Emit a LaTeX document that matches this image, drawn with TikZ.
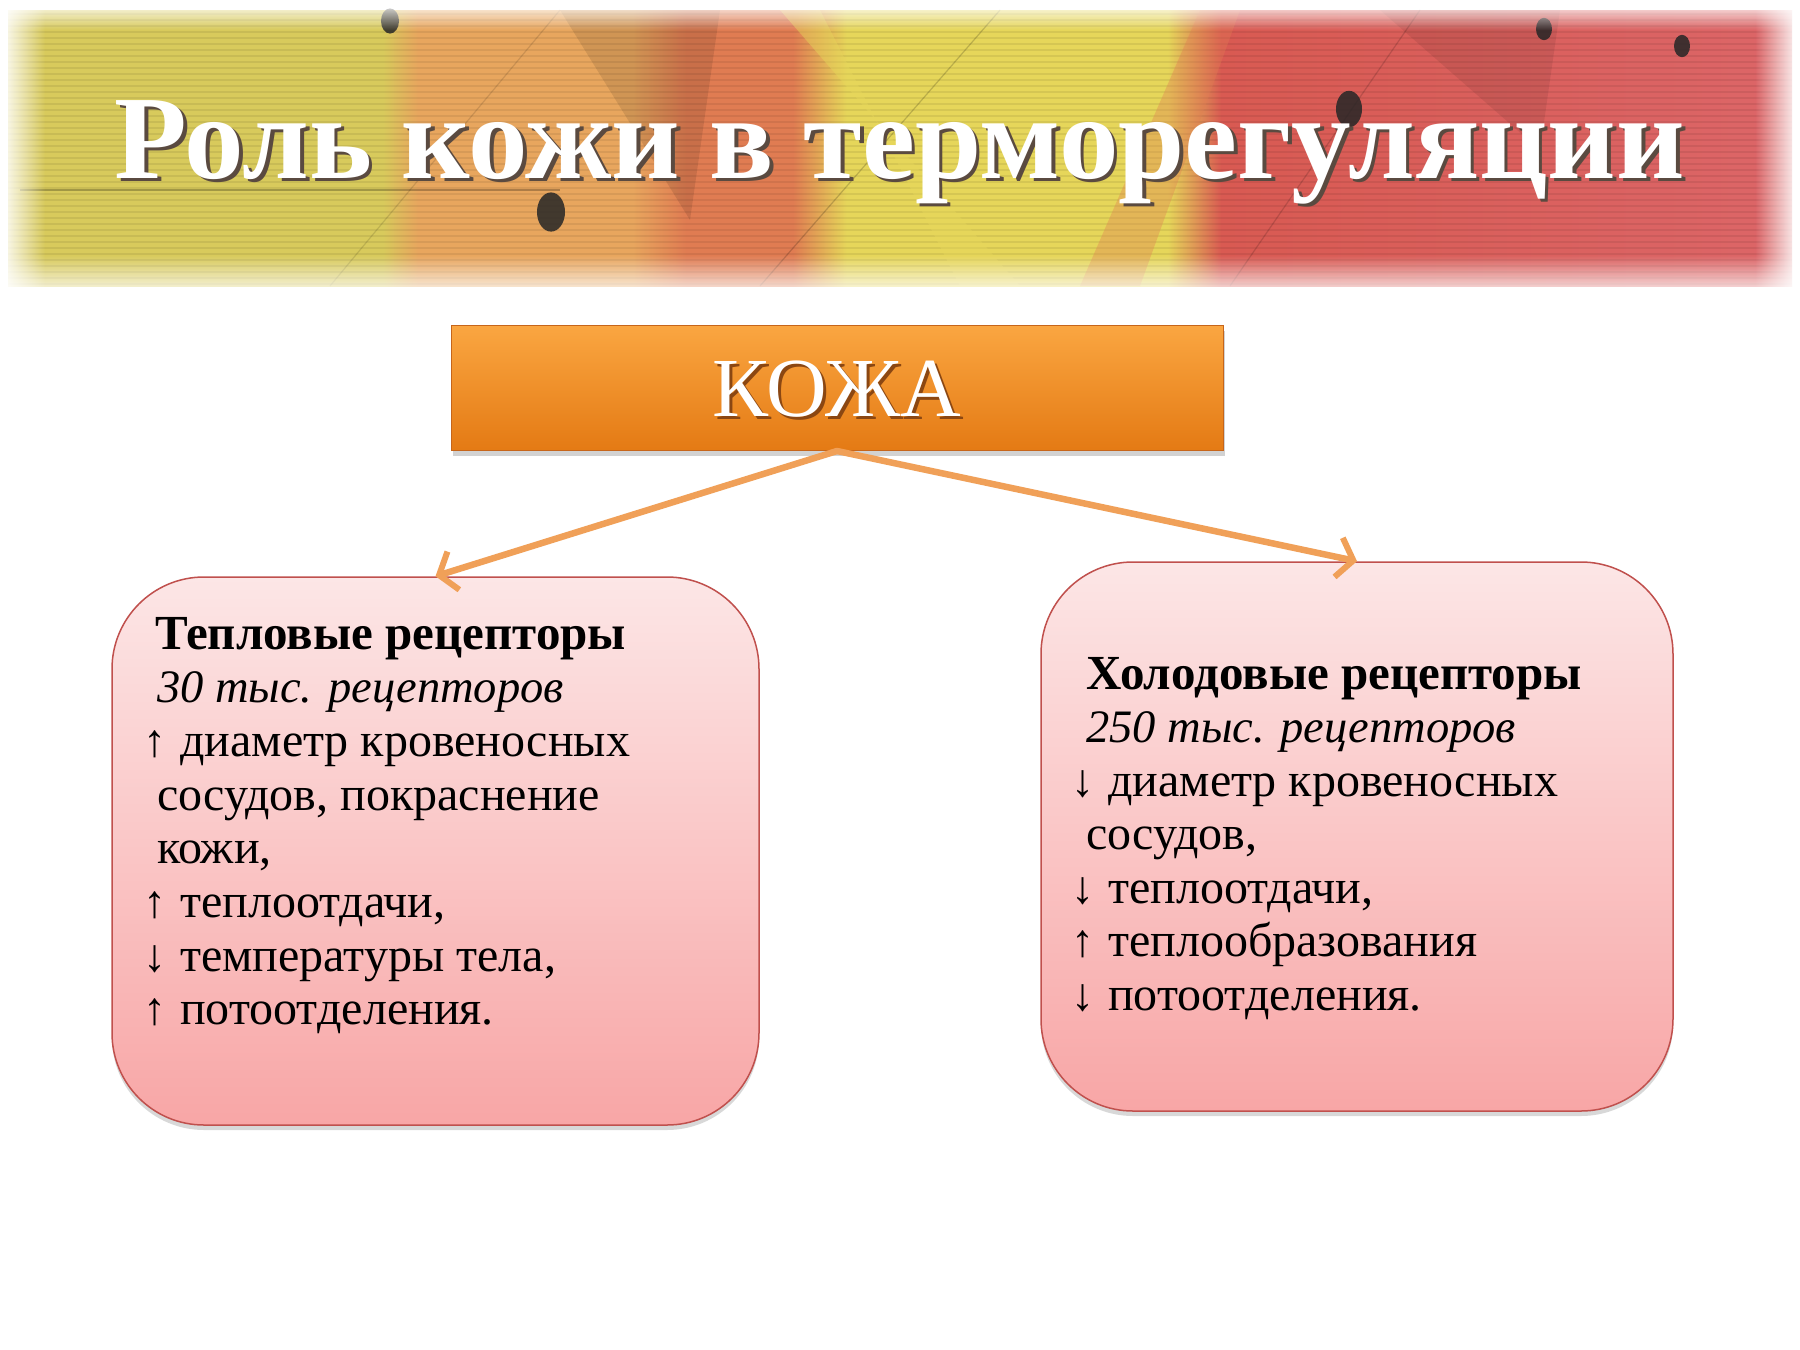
\documentclass[tikz,border=0pt]{standalone}
\usepackage{fontspec}
\setmainfont{Liberation Serif}
\usetikzlibrary{arrows.meta,shadows,fadings}
\definecolor{bA}{HTML}{D8CA5C}
\definecolor{bB}{HTML}{E8A65E}
\definecolor{bC}{HTML}{E07C52}
\definecolor{bD}{HTML}{E6D65A}
\definecolor{bE}{HTML}{D95A52}
\definecolor{bF}{HTML}{DC6668}
\definecolor{orT}{HTML}{FAA641}
\definecolor{orB}{HTML}{E47A14}
\definecolor{orEdge}{HTML}{C6651A}
\definecolor{arrC}{HTML}{F0A058}
\definecolor{pkT}{HTML}{FCE6E6}
\definecolor{pkB}{HTML}{F8A6A6}
\definecolor{pkEdge}{HTML}{C0504D}
\definecolor{shadowC}{HTML}{5A4A40}
\pgfdeclarehorizontalshading{bannershade}{100bp}{color(0bp)=(bA); color(25bp)=(bA); color(35.5bp)=(bA); color(36.5bp)=(bB); color(42.5bp)=(bB); color(44bp)=(bC); color(47bp)=(bC); color(48.5bp)=(bD); color(57.5bp)=(bD); color(59bp)=(bE); color(75bp)=(bF); color(100bp)=(bF)}
\tikzfading[name=fromleft, left color=transparent!0, right color=transparent!100]
\tikzfading[name=fromright, left color=transparent!100, right color=transparent!0]
\tikzfading[name=fromtop, top color=transparent!0, bottom color=transparent!100]
\tikzfading[name=frombottom, top color=transparent!100, bottom color=transparent!0]
\newcommand\arrUp{\makebox[37pt][l]{\fontsize{46}{46}\selectfont ↑}}
\newcommand\arrDn{\makebox[37pt][l]{\fontsize{46}{46}\selectfont ↓}}
\newcommand\shadowed[3]{\makebox[0pt][l]{\hspace*{#2}\raisebox{-#2}{\color{#3}#1}}\color{white}#1}
\tikzset{
  kozhabox/.style={top color=orT, bottom color=orB, draw=orEdge, line width=1pt,
    minimum width=772pt, minimum height=125pt, inner sep=0pt,
    drop shadow={shadow xshift=2pt, shadow yshift=-5pt, opacity=0.35}},
  pinkbox/.style={top color=pkT, bottom color=pkB, draw=pkEdge, line width=1.5pt,
    rounded corners=92pt, inner sep=0pt,
    drop shadow={shadow xshift=0pt, shadow yshift=-5pt, opacity=0.3}},
  boxtext/.style={anchor=base west, inner sep=0pt, text=black},
  conn/.style={draw=arrC, line width=6.5pt, line cap=round,
    -{Straight Barb[length=15pt, width=40pt, line width=6pt]}},
}
\begin{document}
\begin{tikzpicture}[x=1pt,y=-1pt]
\useasboundingbox (0,0) rectangle (1800,1350);
\fill[white] (0,0) rectangle (1800,1350);
% banner
\shade[shading=bannershade] (8,10) rectangle (1792,286);
\foreach \yy in {14,20,...,284} \draw[black, opacity=0.07, line width=2pt] (8,\yy) -- (1792,\yy);
\fill[black, opacity=0.10] (560,10) -- (720,10) -- (690,220) -- cycle;
\fill[black, opacity=0.08] (1380,10) -- (1560,10) -- (1540,150) -- cycle;
\fill[bD, opacity=0.45] (780,10) -- (820,10) -- (960,286) -- (1020,286) -- cycle;
\fill[bC, opacity=0.35] (1080,286) -- (1200,10) -- (1240,10) -- (1140,286) -- cycle;
\draw[black, opacity=0.25, line width=1.5pt] (20,190) -- (560,190);
\draw[black, opacity=0.18, line width=1.2pt] (760,286) -- (1000,10);
\draw[black, opacity=0.15, line width=1.2pt] (1230,286) -- (1420,10);
\draw[black, opacity=0.12, line width=1.2pt] (330,286) -- (560,10);
\foreach \px/\py/\rr in {390/21/9, 551/212/14, 1349/109/13, 1544/29/8, 1682/46/8}
  \fill[black!85, opacity=0.85] (\px,\py) ellipse ({\rr pt} and {1.4*\rr pt});
\fill[white, path fading=fromleft] (0,0) rectangle (45,300);
\fill[white, path fading=fromright] (1755,0) rectangle (1800,300);
\fill[white, path fading=fromtop] (0,0) rectangle (1800,30);
\fill[white, path fading=frombottom] (0,255) rectangle (1800,300);
% title
\node[anchor=base, inner sep=0pt] (title) at (900,178)
  {\fontsize{119}{120}\selectfont\bfseries\shadowed{Роль кожи в терморегуляции}{3.5pt}{shadowC}};
% boxes
\node[kozhabox] (k) at (837,388) {};
\node[anchor=base, inner sep=0pt] (kt) at (837,416)
  {\fontsize{84}{90}\selectfont\shadowed{КОЖА}{3pt}{orEdge!70!black}};
\node[pinkbox, minimum width=647pt, minimum height=548pt] (L) at (435.5,851) {};
\node[pinkbox, minimum width=632pt, minimum height=549pt] (R) at (1357,836.5) {};
% connectors
\draw[conn] (k.south) -- (L.north);
\draw[conn] (k.south) -- (R.north);
% texts
\node[boxtext] (Lt) at (143,649) {\vtop{\fontsize{48}{53.7}\selectfont
  \hbox{\hspace*{12pt}{\fontsize{49}{53.7}\selectfont\textbf{Тепловые рецепторы}}}
  \hbox{\hspace*{14pt}{\fontsize{46.5}{53.7}\selectfont\textit{30 тыс. рецепторов}}}
  \hbox{\arrUp диаметр кровеносных}
  \hbox{\hspace*{14pt}сосудов, покраснение}
  \hbox{\hspace*{14pt}кожи,}
  \hbox{\arrUp теплоотдачи,}
  \hbox{\arrDn температуры тела,}
  \hbox{\arrUp потоотделения.}}};
\node[boxtext] (Rt) at (1071,689) {\vtop{\fontsize{48}{53.5}\selectfont
  \hbox{\hspace*{15pt}{\fontsize{49}{53.5}\selectfont\textbf{Холодовые рецепторы}}}
  \hbox{\hspace*{15pt}{\fontsize{46.5}{53.5}\selectfont\textit{250 тыс. рецепторов}}}
  \hbox{\arrDn диаметр кровеносных}
  \hbox{\hspace*{15pt}сосудов,}
  \hbox{\arrDn теплоотдачи,}
  \hbox{\arrUp теплообразования}
  \hbox{\arrDn потоотделения.}}};
\end{tikzpicture}
\end{document}
